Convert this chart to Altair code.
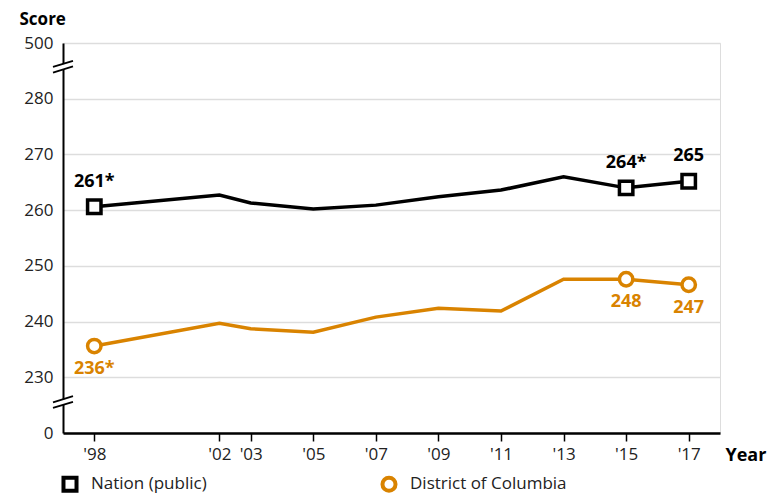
import altair as alt
import pandas as pd

years = [1998, 2002, 2003, 2005, 2007, 2009, 2011, 2013, 2015, 2017]
nation = [260.6, 262.7, 261.3, 260.2, 260.9, 262.4, 263.6, 266.0, 264.0, 265.2]
dc = [235.6, 239.7, 238.7, 238.1, 240.8, 242.4, 241.9, 247.6, 247.6, 246.6]

label_years = [1998, 2015, 2017]
nation_labels = ["261*", "264*", "265"]
dc_labels = ["236*", "248", "247"]

series_names = ["Nation (public)", "District of Columbia"]
series_colors = ["#000000", "#D98300"]
ORANGE = series_colors[1]

FONT = "Open Sans"

rows = []
for y, v in zip(years, nation):
    rows.append({"year": y, "score": v, "series": series_names[0]})
for y, v in zip(years, dc):
    rows.append({"year": y, "score": v, "series": series_names[1]})
df = pd.DataFrame(rows)

lab_rows = []
for y, t in zip(label_years, nation_labels):
    lab_rows.append({"year": y, "score": nation[years.index(y)], "text": t, "series": series_names[0]})
for y, t in zip(label_years, dc_labels):
    lab_rows.append({"year": y, "score": dc[years.index(y)], "text": t, "series": series_names[1]})
lab = pd.DataFrame(lab_rows)

xscale = alt.Scale(domain=[1997, 2018], nice=False, zero=False)
yscale = alt.Scale(domain=[220, 290], nice=False, zero=False)

x_enc = alt.X("year:Q", scale=xscale, axis=alt.Axis(
    values=years, labelExpr="\"'\" + substring(toString(datum.value), 2, 4)",
    grid=False, domainColor="black", domainWidth=2.5, tickColor="black", tickSize=8,
    tickWidth=1.5, labelFontSize=17, labelFont=FONT, labelColor="#222", labelPadding=5,
    title="Year", titleFont=FONT, titleFontSize=18, titleFontWeight="bold",
    titleAngle=0, titleAlign="left", titleBaseline="middle", titleX=662, titleY=22,
    titleColor="black", labelFlush=False))
y_enc = alt.Y("score:Q", scale=yscale, axis=alt.Axis(
    values=[220, 230, 240, 250, 260, 270, 280, 290],
    labelExpr="datum.value == 290 ? '500' : datum.value == 220 ? '0' : datum.label",
    grid=True, gridColor="#dddddd", gridWidth=1.5, ticks=False,
    domainColor="black", domainWidth=2, labelFontSize=17, labelFont=FONT,
    labelColor="#222", labelPadding=10,
    title="Score", titleFont=FONT, titleFontSize=17, titleFontWeight="bold",
    titleAngle=0, titleAlign="left", titleBaseline="middle", titleX=-44, titleY=-24,
    titleColor="black"))

color = alt.Color("series:N", scale=alt.Scale(domain=series_names, range=series_colors),
                  legend=alt.Legend(title=None, orient="none", legendX=-2, legendY=432,
                                    direction="horizontal", labelFont=FONT, labelFontSize=17,
                                    labelColor="#222", symbolFillColor="white",
                                    symbolStrokeWidth=4, symbolSize=170,
                                    columnPadding=167, labelOffset=12, labelLimit=300))
shape = alt.Shape("series:N", scale=alt.Scale(domain=series_names, range=["square", "circle"]),
                  legend=None)

base = alt.Chart(df)
lines = base.mark_line(strokeWidth=3.5).encode(x=x_enc, y=y_enc, color=color, detail="series:N")
pts = alt.Chart(df[df.year.isin(label_years)]).mark_point(
    filled=False, fill="white", fillOpacity=1, strokeWidth=3.5, size=180, opacity=1
).encode(x="year:Q", y="score:Q", color=color, shape=shape)

nat_text = alt.Chart(lab[lab.series == series_names[0]]).mark_text(
    font=FONT, fontSize=18, fontWeight="bold", color="black", dy=-25
).encode(x="year:Q", y="score:Q", text="text:N")
dc_text = alt.Chart(lab[lab.series == series_names[1]]).mark_text(
    font=FONT, fontSize=18, fontWeight="bold", color=ORANGE, dy=23
).encode(x="year:Q", y="score:Q", text="text:N")

# axis break marks
breaks = pd.DataFrame({"b": [285.2, 225.0]})
brk_white = alt.Chart(breaks).transform_calculate(b2="datum.b + 1.0").mark_rule(
    color="white", strokeWidth=5).encode(
    x=alt.value(-9), x2=alt.value(9), y=alt.Y("b:Q", scale=yscale), y2=alt.Y2("b2:Q"))
brk1 = alt.Chart(breaks).transform_calculate(lo="datum.b - 0.5", hi="datum.b + 0.6").mark_rule(
    color="black", strokeWidth=1.8).encode(
    x=alt.value(-10), x2=alt.value(10), y=alt.Y("lo:Q", scale=yscale), y2=alt.Y2("hi:Q"))
brk2 = alt.Chart(breaks).transform_calculate(lo="datum.b + 0.5", hi="datum.b + 1.6").mark_rule(
    color="black", strokeWidth=1.8).encode(
    x=alt.value(-10), x2=alt.value(10), y=alt.Y("lo:Q", scale=yscale), y2=alt.Y2("hi:Q"))

chart = alt.layer(lines, pts, nat_text, dc_text, brk_white, brk1, brk2).properties(
    width=657, height=390,
    autosize=alt.AutoSizeParams(type="none"),
    padding={"left": 55, "top": 35, "right": 55, "bottom": 62},
).configure_view(stroke=None).configure(font=FONT)

chart.save("out.html", embed_options={"renderer": "svg", "actions": False})
